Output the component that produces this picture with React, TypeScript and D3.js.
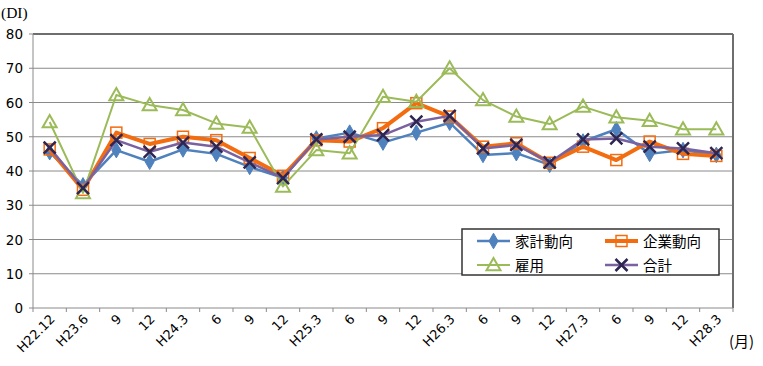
import React from 'react';
import * as d3 from 'd3';

const categories = ['H22.12', 'H23.6', '9', '12', 'H24.3', '6', '9', '12', 'H25.3', '6', '9', '12', 'H26.3', '6', '9', '12', 'H27.3', '6', '9', '12', 'H28.3'];
const household = [45.5, 35.8, 46.1, 42.7, 46.3, 45.0, 41.2, 38.0, 49.5, 51.2, 48.3, 51.2, 54.1, 44.7, 45.2, 41.8, 48.6, 52.2, 45.0, 46.1, 44.7];
const corporate = [46.3, 34.5, 51.2, 47.9, 50.0, 49.0, 43.8, 38.6, 49.0, 48.6, 52.5, 59.8, 55.9, 47.1, 48.1, 42.4, 47.1, 43.2, 48.6, 45.0, 44.4];
const employment = [54.3, 33.6, 62.2, 59.3, 57.8, 53.9, 52.7, 35.5, 46.1, 45.2, 61.7, 60.2, 70.0, 60.7, 55.9, 53.7, 58.8, 55.7, 54.7, 52.2, 52.2];
const total = [46.8, 35.0, 49.0, 45.6, 48.3, 47.1, 42.5, 37.9, 49.2, 50.0, 50.5, 54.4, 56.1, 46.6, 47.6, 42.5, 49.2, 49.5, 47.1, 46.6, 45.2];
const yTicks = [0, 10, 20, 30, 40, 50, 60, 70, 80];

const seriesList = [
  { name: '家計動向', values: household, color: '#4F81BD', width: 2.5, marker: 'diamond' },
  { name: '企業動向', values: corporate, color: '#F36C0F', width: 4, marker: 'square' },
  { name: '雇用', values: employment, color: '#9BBB59', width: 2, marker: 'triangle' },
  { name: '合計', values: total, color: '#7A62A0', width: 2.5, marker: 'x' },
];

const W = 763;
const H = 366;
const left = 33;
const right = 733;
const top = 34;
const bottom = 308;
const numFont = '"DejaVu Sans", Verdana, sans-serif';
const jpFont = '"Noto Sans CJK JP", sans-serif';
const serifFont = '"Liberation Serif", "DejaVu Serif", serif';

function Marker({ type, x, y, color }: { type: string; x: number; y: number; color: string }) {
  if (type === 'diamond') {
    const p = d3.symbol().type(d3.symbolDiamond).size(70)();
    return <path d={p || ''} transform={`translate(${x},${y})`} fill={color} stroke={color} strokeWidth={1} />;
  }
  if (type === 'square') {
    return <rect x={x - 5.5} y={y - 5.5} width={11} height={11} fill="none" stroke={color} strokeWidth={1.5} />;
  }
  if (type === 'triangle') {
    const s = 7;
    return (
      <path
        d={`M${x},${y - s}L${x + s},${y + s * 0.75}L${x - s},${y + s * 0.75}Z`}
        fill="none"
        stroke={color}
        strokeWidth={2}
      />
    );
  }
  const s = 6;
  return (
    <path
      d={`M${x - s},${y - s}L${x + s},${y + s}M${x - s},${y + s}L${x + s},${y - s}`}
      stroke="#2E2650"
      strokeWidth={2.5}
    />
  );
}

export default function App() {
  const x = d3.scaleBand<string>().domain(categories.map((_, i) => String(i))).range([left, right]);
  const y = d3.scaleLinear().domain([0, 80]).range([bottom, top]);
  const cx = (i: number) => (x(String(i)) as number) + x.bandwidth() / 2;
  const line = d3.line<number>().x((_, i) => cx(i)).y((d) => y(d));

  const legendX = 462;
  const legendY = 229;

  return (
    <svg width={W} height={H} style={{ position: 'absolute', left: 0, top: 0, background: '#fff' }}>
      {/* grid */}
      {yTicks.map((t) => (
        <g key={t}>
          {t > 0 && t < 80 && <line x1={left} x2={right} y1={y(t)} y2={y(t)} stroke="#8a8a8a" strokeWidth={1} />}
          <line x1={left - 4} x2={left} y1={y(t)} y2={y(t)} stroke="#8a8a8a" />
          <text x={23} y={y(t) + 5} textAnchor="end" fontFamily={numFont} fontSize={13.5} fill="#000">
            {t}
          </text>
        </g>
      ))}
      {/* plot frame */}
      <line x1={left} x2={right} y1={top} y2={top} stroke="#6e6e6e" strokeWidth={2} />
      <line x1={right} x2={right} y1={top} y2={bottom} stroke="#6e6e6e" strokeWidth={2} />
      <line x1={left} x2={left} y1={top} y2={bottom} stroke="#8a8a8a" strokeWidth={1} />
      <line x1={left} x2={right} y1={bottom} y2={bottom} stroke="#8a8a8a" strokeWidth={1} />
      {/* x ticks */}
      {d3.range(categories.length + 1).map((i) => {
        const xx = left + i * x.bandwidth();
        return <line key={i} x1={xx} x2={xx} y1={bottom} y2={bottom + 4} stroke="#8a8a8a" />;
      })}
      {categories.map((c, i) => (
        <text
          key={i}
          transform={`translate(${cx(i) + 6},${bottom + 12}) rotate(-45)`}
          textAnchor="end"
          fontFamily={numFont}
          fontSize={13}
          fill="#000"
        >
          {c}
        </text>
      ))}
      {/* series */}
      {seriesList.map((s) => (
        <g key={s.name}>
          <path d={line(s.values) || ''} fill="none" stroke={s.color} strokeWidth={s.width} strokeLinejoin="round" />
          {s.values.map((v, i) => (
            <Marker key={i} type={s.marker} x={cx(i)} y={y(v)} color={s.color} />
          ))}
        </g>
      ))}
      {/* legend */}
      <rect x={legendX} y={legendY} width={257} height={46} fill="#fff" stroke="#333" strokeWidth={1.5} />
      {seriesList.map((s, i) => {
        const col = i % 2;
        const row = Math.floor(i / 2);
        const lx = legendX + 15 + col * 128;
        const ly = legendY + 12 + row * 24;
        return (
          <g key={s.name}>
            <line x1={lx} x2={lx + 33} y1={ly} y2={ly} stroke={s.color} strokeWidth={s.width} />
            <Marker type={s.marker} x={lx + 16.5} y={ly} color={s.color} />
            <text x={lx + 38} y={ly + 5.5} fontFamily={jpFont} fontSize={14.5} fill="#000">
              {s.name}
            </text>
          </g>
        );
      })}
      <text x={1} y={18} fontFamily={serifFont} fontSize={15.5} fill="#000">
        (DI)
      </text>
      <text x={729} y={347} fontFamily={jpFont} fontSize={15} fill="#000">
        (月)
      </text>
    </svg>
  );
}
